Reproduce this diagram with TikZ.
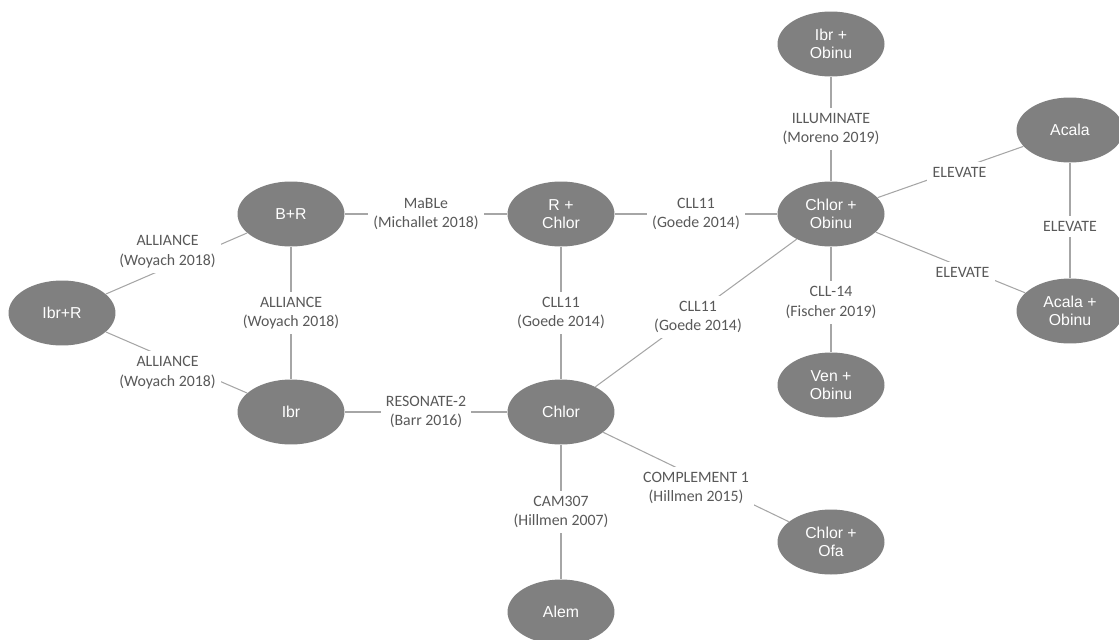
\documentclass[tikz,border=0pt]{standalone}
\usepackage{fontspec}
\setmainfont{Carlito}
\newfontfamily\armfont{Liberation Sans}
\usetikzlibrary{shapes.geometric}

\definecolor{armgray}{HTML}{808080}
\definecolor{linegray}{HTML}{A6A6A6}
\definecolor{labelgray}{HTML}{595959}

\begin{document}
\begin{tikzpicture}[x=0.02cm,y=-0.02cm,
  arm/.style={ellipse, fill=armgray, text=white, minimum width=2.14cm, minimum height=1.3cm,
    inner sep=0pt, align=center, font=\armfont\fontsize{9}{10.5}\selectfont},
  trial/.style={fill=white, inner sep=3pt, align=center, text=labelgray,
    font=\fontsize{9}{11}\selectfont},
  link/.style={draw=linegray, line width=0.6pt}]

% Page size of the reference
\useasboundingbox (0,0) rectangle (1119,639);

% Treatment arms
\node[arm] (ibrr) at (62,313) {Ibr+R};
\node[arm] (br) at (291,214) {B+R};
\node[arm] (ibr) at (291,412) {Ibr};
\node[arm] (rchlor) at (561,214) {R +\\Chlor};
\node[arm] (chlor) at (561,412) {Chlor};
\node[arm] (chlorobinu) at (831,214) {Chlor +\\Obinu};
\node[arm] (ibrobinu) at (831,44) {Ibr +\\Obinu};
\node[arm] (venobinu) at (831,385) {Ven +\\Obinu};
\node[arm] (acala) at (1070,130) {Acala};
\node[arm] (acalaobinu) at (1070,311) {Acala +\\Obinu};
\node[arm] (chlorofa) at (831,542) {Chlor +\\Ofa};
\node[arm] (alem) at (561,612) {Alem};

% Trials linking the arms
\draw[link] (ibrr) -- node[trial, shift={(-9,-12)}] {ALLIANCE\\(Woyach 2018)} (br);
\draw[link] (ibrr) -- node[trial, shift={(-9,10)}] {ALLIANCE\\(Woyach 2018)} (ibr);
\draw[link] (br) -- node[trial] {ALLIANCE\\(Woyach 2018)} (ibr);
\draw[link] (br) -- node[trial] {MaBLe\\(Michallet 2018)} (rchlor);
\draw[link] (rchlor) -- node[trial] {CLL11\\(Goede 2014)} (chlorobinu);
\draw[link] (rchlor) -- node[trial] {CLL11\\(Goede 2014)} (chlor);
\draw[link] (chlor) -- node[trial, shift={(2,4)}] {CLL11\\(Goede 2014)} (chlorobinu);
\draw[link] (ibr) -- node[trial] {RESONATE-2\\(Barr 2016)} (chlor);
\draw[link] (chlorobinu) -- node[trial] {ILLUMINATE\\(Moreno 2019)} (ibrobinu);
\draw[link] (chlorobinu) -- node[trial, shift={(0,3)}] {CLL-14\\(Fischer 2019)} (venobinu);
\draw[link] (chlorobinu) -- node[trial, shift={(9,0)}] {ELEVATE} (acala);
\draw[link] (chlorobinu) -- node[trial, shift={(12,10)}] {ELEVATE} (acalaobinu);
\draw[link] (acala) -- node[trial, pos=0.55] {ELEVATE} (acalaobinu);
\draw[link] (chlor) -- node[trial] {CAM307\\(Hillmen 2007)} (alem);
\draw[link] (chlor) -- node[trial, shift={(0,11)}] {COMPLEMENT 1\\(Hillmen 2015)} (chlorofa);

\end{tikzpicture}
\end{document}
